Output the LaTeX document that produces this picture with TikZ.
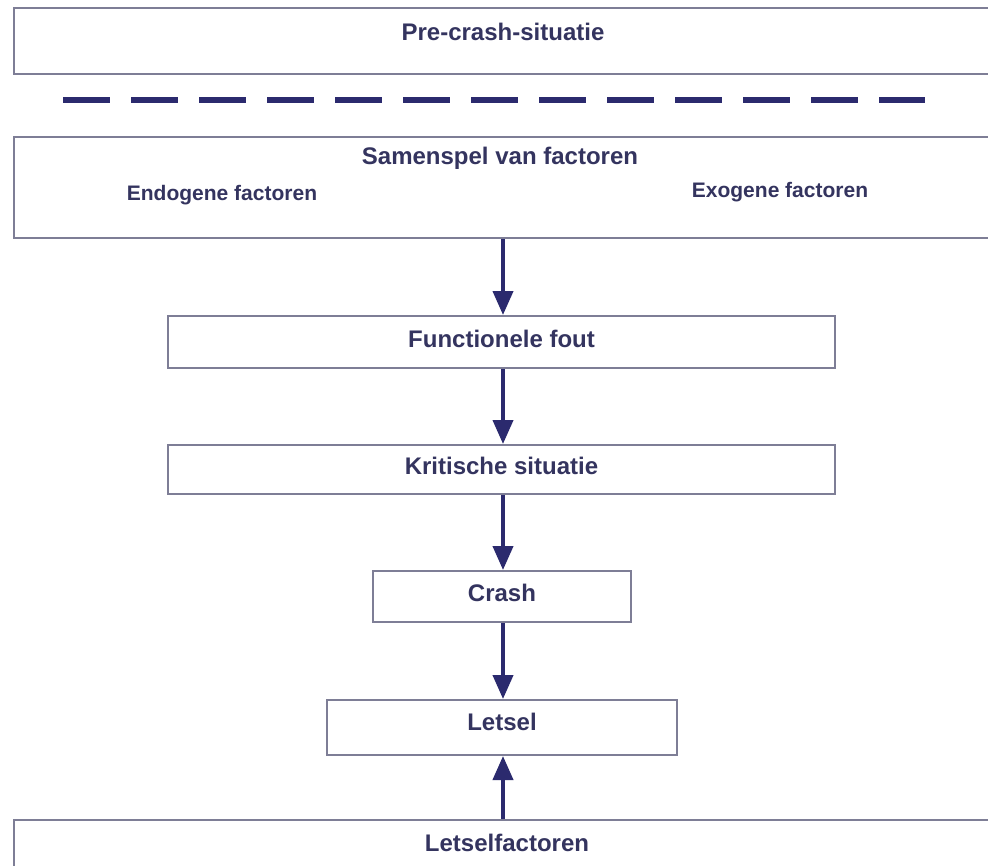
\documentclass[tikz,border=0pt]{standalone}
\usepackage{fontspec}
\setmainfont{Liberation Sans}
\usetikzlibrary{arrows.meta}
\definecolor{navy}{HTML}{2B2A6E}
\definecolor{navytext}{HTML}{34345F}
\definecolor{framegray}{HTML}{7E7E96}
\tikzset{
  frame/.style={draw=framegray,line width=2pt,fill=white,inner sep=0pt},
  caption/.style={text=navytext,font=\bfseries\fontsize{24}{28}\selectfont,inner sep=0pt},
  flow/.style={draw=navy,line width=4pt,-{Triangle[length=24pt,width=20pt]}},
}
\begin{document}
\begin{tikzpicture}[x=1pt,y=-1pt]
        \clip (0,0) rectangle (988,865);
        \fill[white] (0,0) rectangle (988,865);
        %% Pre-crash
        \node[frame,minimum width=986pt,minimum height=66pt] (precrash) at (507,41) {};
        \node[caption] (precrashtext) at (503,32) {Pre-crash-situatie};
        \draw[navy,line width=6pt,dash pattern=on 47pt off 21pt] (63,100) -- (925,100);
        %% Factoren
        \node[frame,minimum width=986pt,minimum height=101pt] (factors) at (507,187.5) {};
        \node[caption] (factorstext) at (500,158) {Samenspel van factoren};
        \node[caption,font=\bfseries\fontsize{21}{25}\selectfont] (endo) at (222,195) {Endogene factoren};
        \node[caption,font=\bfseries\fontsize{21}{25}\selectfont] (exo) at (780,192) {Exogene factoren};
        %% Chain
        \node[frame,caption,text depth=7pt,minimum width=667pt,minimum height=52pt] (fout) at (501.5,342) {Functionele fout};
        \node[frame,caption,text depth=7pt,minimum width=667pt,minimum height=49pt] (kritisch) at (501.5,469.5) {Kritische situatie};
        \node[frame,caption,text depth=7pt,minimum width=258pt,minimum height=51pt] (crash) at (502,596.5) {Crash};
        \node[frame,caption,text depth=12pt,minimum width=350pt,minimum height=55pt] (letsel) at (502,727.5) {Letsel};
        \node[frame,caption,text depth=4pt,minimum width=986pt,minimum height=50pt] (injfac) at (507,845) {Letselfactoren};
        %% Arrows
        \draw[flow] (factors.south -| 503,0) -- (fout.north -| 503,0);
        \draw[flow] (fout.south -| 503,0) -- (kritisch.north -| 503,0);
        \draw[flow] (kritisch.south -| 503,0) -- (crash.north -| 503,0);
        \draw[flow] (crash.south -| 503,0) -- (letsel.north -| 503,0);
        \draw[flow] (injfac.north -| 503,0) -- (letsel.south -| 503,0);
\end{tikzpicture}
\end{document}
